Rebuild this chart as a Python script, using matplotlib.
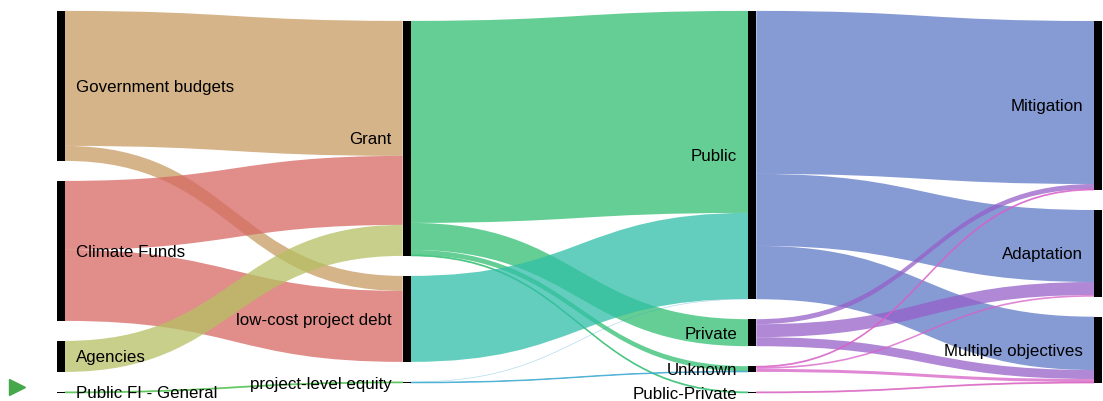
import matplotlib
matplotlib.use("Agg")
import matplotlib.pyplot as plt
from matplotlib.path import Path
from matplotlib.patches import PathPatch, Rectangle

# ---------------- data ----------------
col_sources = ["Government budgets", "Climate Funds", "Agencies", "Public FI - General"]
col_instruments = ["Grant", "low-cost project debt", "project-level equity"]
col_recipients = ["Public", "Private", "Unknown", "Public-Private"]
col_uses = ["Mitigation", "Adaptation", "Multiple objectives"]

link_src = ["Government budgets", "Government budgets", "Climate Funds", "Climate Funds",
            "Agencies", "Public FI - General",
            "Grant", "Grant", "Grant", "Grant",
            "low-cost project debt", "project-level equity", "project-level equity",
            "Public", "Public", "Public",
            "Private", "Private", "Private",
            "Unknown", "Unknown", "Unknown",
            "Public-Private"]
link_dst = ["Grant", "low-cost project debt", "Grant", "low-cost project debt",
            "Grant", "project-level equity",
            "Public", "Private", "Unknown", "Public-Private",
            "Public", "Public", "Unknown",
            "Mitigation", "Adaptation", "Multiple objectives",
            "Mitigation", "Adaptation", "Multiple objectives",
            "Mitigation", "Adaptation", "Multiple objectives",
            "Multiple objectives"]
link_val = [135, 15, 69, 71,
            31, 1,
            202, 27, 5, 1,
            86, 0.3, 0.7,
            163, 72, 53.3,
            5, 13, 9,
            1, 1.7, 3,
            1]

# ---------------- style ----------------
link_colors = {
    "Government budgets": "#c79b63",
    "Climate Funds": "#d76863",
    "Agencies": "#b6c063",
    "Public FI - General": "#4cc04c",
    "Grant": "#30be70",
    "low-cost project debt": "#30bea8",
    "project-level equity": "#3aa8d0",
    "Public": "#5e78c6",
    "Private": "#9660c8",
    "Unknown": "#d860c8",
    "Public-Private": "#d860c0",
}
ALPHA = 0.75

W, H = 1103, 401
fig = plt.figure(figsize=(W / 100, H / 100), dpi=100)
ax = fig.add_axes([0, 0, 1, 1])
ax.set_xlim(0, W)
ax.set_ylim(H, 0)
ax.axis("off")

columns = [col_sources, col_instruments, col_recipients, col_uses]
scale = 1.0          # pixels per unit
node_w = 8
gap = 20
x_left, x_right = 57, 1102
center_y = 202

# node values
node_val = {}
for cols in columns:
    for n in cols:
        vin = sum(v for s, d, v in zip(link_src, link_dst, link_val) if d == n)
        vout = sum(v for s, d, v in zip(link_src, link_dst, link_val) if s == n)
        node_val[n] = max(vin, vout)

col_index = {}
row_index = {}
for ci, cols in enumerate(columns):
    for ri, n in enumerate(cols):
        col_index[n] = ci
        row_index[n] = ri

spacing = (x_right - node_w - x_left) / (len(columns) - 1)
node_x = {}
node_y = {}
node_h = {}
for ci, cols in enumerate(columns):
    heights = [max(node_val[n] * scale, 1.2) for n in cols]
    extent = sum(heights) + gap * (len(cols) - 1)
    y = center_y - extent / 2
    for n, h in zip(cols, heights):
        node_x[n] = x_left + ci * spacing
        node_y[n] = y
        node_h[n] = h
        y += h + gap

# link positions
out_off = {n: node_y[n] for n in node_y}
in_off = {n: node_y[n] for n in node_y}
links = list(zip(link_src, link_dst, link_val))
src_pos = {}
dst_pos = {}
for i in sorted(range(len(links)), key=lambda i: (col_index[links[i][0]], row_index[links[i][0]], row_index[links[i][1]])):
    s, d, v = links[i]
    src_pos[i] = out_off[s]
    out_off[s] += v * scale
for i in sorted(range(len(links)), key=lambda i: (col_index[links[i][1]], row_index[links[i][1]], row_index[links[i][0]])):
    s, d, v = links[i]
    dst_pos[i] = in_off[d]
    in_off[d] += v * scale

for i, (s, d, v) in enumerate(links):
    x0 = node_x[s] + node_w
    x1 = node_x[d]
    xm = (x0 + x1) / 2
    t = v * scale
    y0a, y1a = src_pos[i], dst_pos[i]
    y0b, y1b = y0a + t, y1a + t
    verts = [(x0, y0a), (xm, y0a), (xm, y1a), (x1, y1a),
             (x1, y1b), (xm, y1b), (xm, y0b), (x0, y0b), (x0, y0a)]
    codes = [Path.MOVETO, Path.CURVE4, Path.CURVE4, Path.CURVE4,
             Path.LINETO, Path.CURVE4, Path.CURVE4, Path.CURVE4, Path.CLOSEPOLY]
    if t < 0.5:
        fc, ec, lw, a = link_colors[s], link_colors[s], 0.3, 0.25
    elif t < 1.5:
        fc, ec, lw, a = link_colors[s], link_colors[s], 0.6, ALPHA
    else:
        fc, ec, lw, a = link_colors[s], "none", 0, ALPHA
    ax.add_patch(PathPatch(Path(verts, codes), facecolor=fc, edgecolor=ec,
                           linewidth=lw, alpha=a, zorder=1))

for n in node_y:
    ax.add_patch(Rectangle((node_x[n], node_y[n]), node_w, node_h[n],
                           facecolor="black", edgecolor="none", zorder=3))

fs = 16.9 * 72 / 100
font = ["Liberation Sans", "DejaVu Sans"]
for n in node_y:
    cy = node_y[n] + node_h[n] / 2 + 1.5
    if col_index[n] == 0:
        ax.text(node_x[n] + node_w + 11, cy, n, ha="left", va="center",
                fontsize=fs, family=font, color="black", zorder=4)
    else:
        ax.text(node_x[n] - 11, cy, n, ha="right", va="center",
                fontsize=fs, family=font, color="black", zorder=4)

# small green play marker at the left
ax.plot([17], [387], marker=">", markersize=11, color="#46a84a", linestyle="none")

fig.savefig("out.png", dpi=100)
